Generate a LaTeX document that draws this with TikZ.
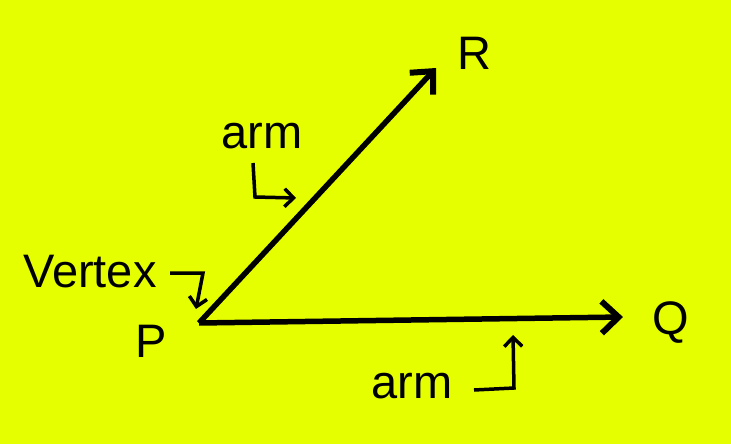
\documentclass[tikz,border=0pt]{standalone}
\usepackage{fontspec}
\setmainfont{Liberation Sans}
\usetikzlibrary{arrows.meta}
\definecolor{bgyellow}{RGB}{230,255,0}

\begin{document}
\begin{tikzpicture}[x=1pt, y=-1pt,
  every node/.style = {inner sep=0pt, font=\fontsize{47}{50}\selectfont},
  armline/.style = {line width=5.5pt, -{Straight Barb[length=17pt, width=32pt, line width=6pt]}},
  pointer/.style = {line width=3.5pt, -{Straight Barb[length=9pt, width=18pt, line width=3.5pt]}}]
  \fill[bgyellow] (0,0) rectangle (731,444);
  \useasboundingbox (0,0) rectangle (731,444);
  % the angle
  \coordinate (P) at (199,323);
  \coordinate (R) at (436,68);
  \coordinate (Q) at (623,317);
  \draw[armline] (P) -- (R);
  \draw[armline] (P) -- (Q);
  \node (labelR) at (474,53) {R};
  \node (labelQ) at (671,323) {Q};
  \node (labelP) at (151,341) {P};
  % labels with bent pointers
  \node (vertex) at (90,272) {Vertex};
  \node (armup) at (262,136) {arm};
  \node (armdown) at (412,386) {arm};
  \coordinate (vstart) at (170,273);
  \coordinate (vbend) at (203,273);
  \coordinate (vend) at (196,309);
  \draw[pointer] (vstart) -- (vbend) -- (vend);
  \coordinate (ustart) at (253,163);
  \coordinate (ubend) at (255,197);
  \coordinate (uend) at (296,198);
  \draw[pointer] (ustart) -- (ubend) -- (uend);
  \coordinate (dstart) at (474,390);
  \coordinate (dbend) at (514,388);
  \coordinate (dend) at (513,335);
  \draw[pointer] (dstart) -- (dbend) -- (dend);
\end{tikzpicture}
\end{document}
